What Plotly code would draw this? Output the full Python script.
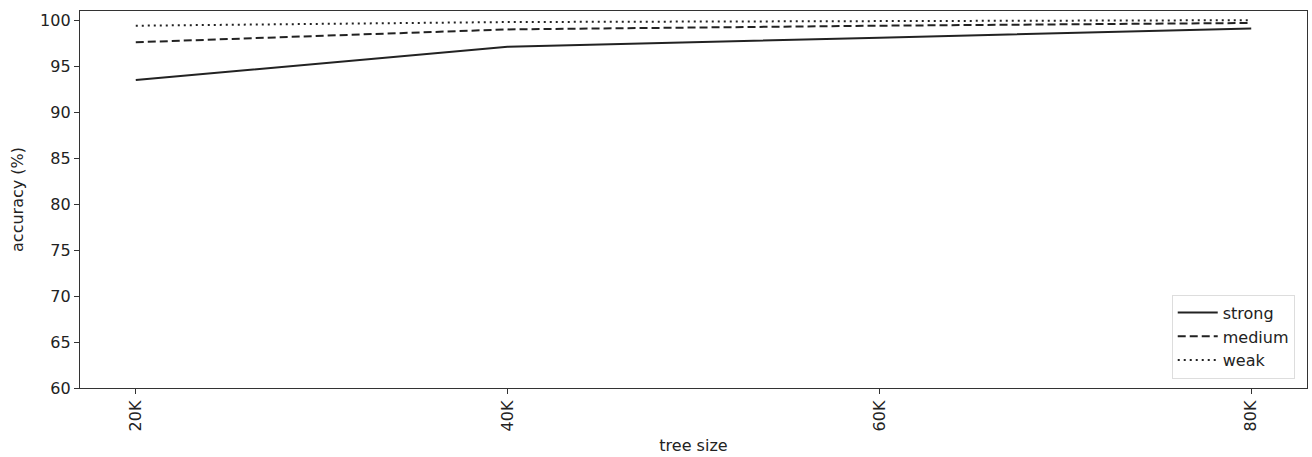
import plotly.graph_objects as go

tree_sizes = ["20K", "40K", "60K", "80K"]
strong = [93.5, 97.1, 98.1, 99.1]
medium = [97.6, 99.0, 99.4, 99.7]
weak = [99.4, 99.8, 99.9, 100.0]
y_ticks = [60, 65, 70, 75, 80, 85, 90, 95, 100]

x_idx = list(range(len(tree_sizes)))

fig = go.Figure()
for name, vals, dash in [("strong", strong, "solid"), ("medium", medium, "8px,4px"), ("weak", weak, "2px,4px")]:
    fig.add_trace(go.Scatter(x=x_idx, y=vals, mode="lines", name=name,
                             line=dict(color="#222222", width=2, dash=dash)))

FONT = "DejaVu Sans"
axis_common = dict(showline=True, linecolor="#333333", linewidth=1.3, mirror=True,
                   ticks="outside", ticklen=5, tickcolor="#333333", showgrid=False,
                   zeroline=False, tickfont=dict(family=FONT, size=16, color="#222222"))

fig.update_layout(
    width=1312, height=457,
    margin=dict(l=80, r=5, t=11, b=69),
    plot_bgcolor="white", paper_bgcolor="white",
    xaxis=dict(range=[-0.15, 3.15], tickvals=x_idx, ticktext=tree_sizes, tickangle=-90,
               title=dict(text="tree size", font=dict(family=FONT, size=16, color="#222222"), standoff=9),
               **axis_common),
    yaxis=dict(range=[60, 101], tickvals=y_ticks,
               title=dict(text="accuracy (%)", font=dict(family=FONT, size=16, color="#222222"), standoff=12),
               **axis_common),
    legend=dict(x=0.99, y=0.025, xanchor="right", yanchor="bottom",
                bgcolor="rgba(255,255,255,0.8)", bordercolor="#dddddd", borderwidth=1,
                tracegroupgap=0, itemwidth=40,
                font=dict(family=FONT, size=16, color="#222222")),
    showlegend=True,
)

fig.write_html("out.html")
